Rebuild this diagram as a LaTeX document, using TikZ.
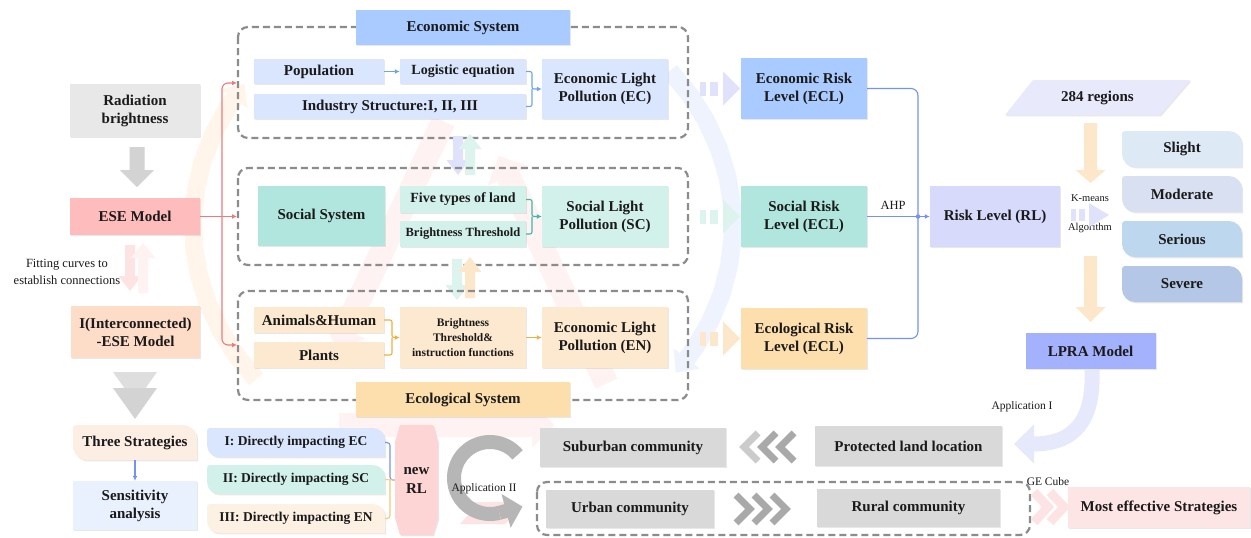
\documentclass[tikz,border=0pt]{standalone}
\usepackage{fontspec}
\setmainfont{Liberation Serif}
\usetikzlibrary{arrows.meta,shadows,calc}

\definecolor{cRad}{HTML}{E8E8E8}
\definecolor{cESE}{HTML}{FFBCBC}
\definecolor{cIESE}{HTML}{FDDCC8}
\definecolor{cThree}{HTML}{FDEEE4}
\definecolor{cSens}{HTML}{E9F0FE}
\definecolor{cEcoT}{HTML}{A9CBFF}
\definecolor{cEcoIn}{HTML}{DAE6FD}
\definecolor{cSocS}{HTML}{B0E6DE}
\definecolor{cSocIn}{HTML}{D2F1EA}
\definecolor{cEclT}{HTML}{FDDFAE}
\definecolor{cEclIn}{HTML}{FDE9CF}
\definecolor{cRL}{HTML}{D7DAFB}
\definecolor{cReg}{HTML}{E8EAFB}
\definecolor{cSl}{HTML}{DDE9F5}
\definecolor{cMo}{HTML}{D9E0F2}
\definecolor{cSe}{HTML}{BDD7EE}
\definecolor{cSv}{HTML}{B4C7E7}
\definecolor{cLP}{HTML}{A4B1FC}
\definecolor{cNRL}{HTML}{FDD5D5}
\definecolor{cMost}{HTML}{FDE5E5}
\definecolor{cGray}{HTML}{D9D9D9}
\definecolor{cIII}{HTML}{FDF1E4}
\definecolor{txt}{HTML}{1A1A1A}
\definecolor{dashgray}{HTML}{8C8C8C}
\definecolor{cRed}{HTML}{F07A7A}
\definecolor{cBlueArr}{HTML}{6FA4E8}
\definecolor{cTealArr}{HTML}{3DB9A8}
\definecolor{cOrArr}{HTML}{EDB13F}
\definecolor{cBL}{HTML}{7592F2}
\definecolor{bgOr}{HTML}{FFF5EA}
\definecolor{bgBl}{HTML}{EFF3FE}
\definecolor{bgRd}{HTML}{FEF2F2}
\definecolor{fLav}{HTML}{E0E2FB}
\definecolor{fTeal}{HTML}{DDF4EE}
\definecolor{fOr}{HTML}{FDE7CB}
\definecolor{fPink}{HTML}{FDE3E3}
\definecolor{cChev}{HTML}{A9A9A9}
\definecolor{cArrG}{HTML}{D3D3D3}

\tikzset{
  bx/.style={rectangle, inner sep=1pt, align=center, text=txt,
    font=\bfseries\fontsize{15}{18}\selectfont,
    drop shadow={shadow xshift=1.2pt, shadow yshift=-1.4pt, opacity=.18}},
  bfa/.style={font=\bfseries\fontsize{15}{18}\selectfont},
  bfb/.style={font=\bfseries\fontsize{13.5}{16}\selectfont},
  lbl/.style={text=txt, align=center, inner sep=0pt},
  rg/.style={lbl, font=\fontsize{12.5}{17}\selectfont},
  dbox/.style={draw=dashgray, line width=2.2pt, dash pattern=on 7pt off 4pt, rounded corners=10pt},
  conn/.style={line width=1.1pt, rounded corners=2pt},
  tip/.style={-{Latex[length=5pt,width=5pt]}},
  chev/.style={line width=7pt, miter limit=10},
}

% leaf-shaped box: name, x0, y0, x1, y1, R, fill, font style, text
\newcommand\leafbox[9]{%
  \fill[#7, drop shadow={shadow xshift=1.2pt, shadow yshift=-1.4pt, opacity=.18}]
    ({#2+3},#3) -- ({#4-#6},#3) .. controls ({#4-0.45*#6},#3) and (#4,{#3+0.45*#6}) .. (#4,{#3+#6})
    -- (#4,#5) -- ({#2+#6},#5) .. controls ({#2+0.45*#6},#5) and (#2,{#5-0.45*#6}) .. (#2,{#5-#6})
    -- (#2,{#3+3}) .. controls (#2,{#3+1.3}) and ({#2+1.3},#3) .. ({#2+3},#3) -- cycle;
  \node[lbl,#8, minimum width={#4-#2}, minimum height={#5-#3}] (#1) at ({(#2+#4)/2},{(#3+#5)/2}) {#9};
}
% fat block arrow: x, y start, y head base, shaft w, head w, tip y, colour
\newcommand\fatarr[7]{%
  \fill[#7] ({#1-#4/2},#2) -- ({#1+#4/2},#2) -- ({#1+#4/2},#3) -- ({#1+#5/2},#3) -- (#1,#6)
    -- ({#1-#5/2},#3) -- ({#1-#4/2},#3) -- cycle;}
% segmented right arrow: x, y, colour
\newcommand\segarr[3]{%
  \fill[#3] (#1,{#2-7}) rectangle ({#1+6},{#2+7});
  \fill[#3] ({#1+10},{#2-7}) rectangle ({#1+18},{#2+7});
  \fill[#3] ({#1+23},{#2-17}) -- ({#1+40},#2) -- ({#1+23},{#2+17}) -- cycle;}

\begin{document}
\begin{tikzpicture}[x=1pt,y=-1pt]
\fill[white] (0,0) rectangle (1251,538);
\useasboundingbox (0,0) rectangle (1251,538);

% ---------- faint background decoration ----------
\draw[line width=18pt, line join=round, bgOr, -{Triangle[length=18pt,width=32pt]}, variable=\t, domain=140:216, samples=12]
  plot ({463+270*cos(\t)},{225+240*sin(\t)});
\draw[line width=18pt, line join=round, bgBl, -{Triangle[length=18pt,width=32pt]}, variable=\t, domain=-40:38, samples=12]
  plot ({463+270*cos(\t)},{225+240*sin(\t)});
\coordinate (tA) at (463,80);
\coordinate (tB) at (300,425);
\coordinate (tC) at (626,425);
\draw[line width=24pt, bgRd, -{Triangle[length=22pt,width=44pt]}] ($(tA)!0.12!(tB)$) -- ($(tA)!0.78!(tB)$);
\draw[line width=24pt, bgRd, -{Triangle[length=22pt,width=44pt]}] ($(tB)!0.12!(tC)$) -- ($(tB)!0.78!(tC)$);
\draw[line width=24pt, bgRd, -{Triangle[length=22pt,width=44pt]}] ($(tC)!0.12!(tA)$) -- ($(tC)!0.78!(tA)$);

% ---------- left column ----------
\node[bx, fill=cRad, minimum width=130pt, minimum height=53pt] (rad) at (135,110.5) {Radiation\\brightness};
\fatarr{137}{147}{170}{15}{34}{187}{cArrG}
\node[bx, fill=cESE, minimum width=130pt, minimum height=37pt] (ese) at (135,216.5) {ESE Model};
\fatarr{130}{245}{276}{10}{23}{291}{fPink}
\fatarr{143}{293}{258}{10}{25}{243}{bgRd}
\node[rg] (fit) at (67,272) {Fitting curves to\\establish connections};
\node[bx, fill=cIESE, minimum width=129pt, minimum height=52pt] (iese) at (135.5,332) {I(Interconnected)\\-ESE Model};
\fill[cArrG!75] (113,372) -- (157,372) -- (135,403) -- cycle;
\fill[cArrG] (113,388) -- (157,388) -- (135,419) -- cycle;
\leafbox{three}{73}{425}{197}{460}{14}{cThree}{bfa}{Three Strategies}
\node[bx, fill=cSens, minimum width=124pt, minimum height=49pt] (sens) at (135,505.5) {Sensitivity\\analysis};
\draw[conn, draw=cBL, tip] (three.south) -- (sens.north);

% red bracket
\coordinate (bT) at (237,83);
\coordinate (bM) at (237,216.5);
\coordinate (bB) at (237,345);
\draw[conn, draw=cRed, tip] (ese.east) -- (bM);
\draw[conn, draw=cRed, rounded corners=6pt, {Latex[length=5pt,width=5pt]}-{Latex[length=5pt,width=5pt]}]
  (bT) -- (222,83) -- (222,345) -- (bB);

% ---------- economic system ----------
\draw[dbox] (238,27) rectangle (688,138);
\node[bx, fill=cEcoT, minimum width=214pt, minimum height=35pt] (ecoT) at (463,27.5) {Economic System};
\node[bx, fill=cEcoIn, minimum width=130pt, minimum height=25pt] (pop) at (319,71.5) {Population};
\node[bx, fill=cEcoIn, minimum width=126pt, minimum height=25pt, font=\bfseries\fontsize{14}{16}\selectfont] (logi) at (463,71.5) {Logistic equation};
\node[bx, fill=cEcoIn, minimum width=272pt, minimum height=25pt] (ind) at (390,106.5) {Industry Structure:I, II, III};
\node[bx, fill=cEcoIn, minimum width=126pt, minimum height=60pt] (ec) at (605,89) {Economic Light\\Pollution (EC)};
\draw[conn, draw=cBlueArr, tip] (pop.east) -- (logi.west);
\draw[conn, draw=cBlueArr, tip] (logi.east) -- (532,71.5) -- (532,89) -- (ec.west);
\draw[conn, draw=cBlueArr] (ind.east) -- (532,106.5) -- (532,89);

% arrows between systems
\fatarr{458}{136}{160}{10}{23}{175}{fLav}
\fatarr{470}{175}{149}{10}{23}{134}{fTeal}

% ---------- social system ----------
\draw[dbox] (238,168) rectangle (688,265);
\node[bx, fill=cSocS, minimum width=127pt, minimum height=60pt] (socs) at (321.5,216) {Social System};
\node[bx, fill=cSocIn, minimum width=126pt, minimum height=27pt, font=\bfseries\fontsize{14}{16}\selectfont] (five) at (463,199.5) {Five types of land};
\node[bx, fill=cSocIn, minimum width=126pt, minimum height=26pt, font=\bfseries\fontsize{12.5}{15}\selectfont] (bth) at (463,234) {Brightness Threshold};
\node[bx, fill=cSocIn, minimum width=126pt, minimum height=61pt] (sc) at (605,216.5) {Social Light\\Pollution (SC)};
\draw[conn, draw=cTealArr, tip] (five.east) -- (532,199.5) -- (532,216.5) -- (sc.west);
\draw[conn, draw=cTealArr] (bth.east) -- (532,234) -- (532,216.5);

\fatarr{457}{259}{285}{10}{23}{300}{fTeal}
\fatarr{470}{298}{272}{10}{23}{257}{fOr}

% ---------- ecological system ----------
\draw[dbox] (238,291) rectangle (688,400);
\node[bx, fill=cEclIn, minimum width=130pt, minimum height=26pt] (ani) at (319,320) {Animals\&Human};
\node[bx, fill=cEclIn, minimum width=130pt, minimum height=26pt] (pla) at (319,355) {Plants};
\node[bx, fill=cEclIn, minimum width=126pt, minimum height=61pt, font=\bfseries\fontsize{11.5}{15}\selectfont] (bti) at (463,337.5) {Brightness\\Threshold\&\\instruction functions};
\node[bx, fill=cEclIn, minimum width=126pt, minimum height=61pt] (en) at (605,337.5) {Economic Light\\Pollution (EN)};
\draw[conn, draw=cOrArr, tip] (ani.east) -- (392,320) -- (392,337.5) -- (bti.west);
\draw[conn, draw=cOrArr] (pla.east) -- (392,355) -- (392,337.5);
\draw[conn, draw=cOrArr, tip] (bti.east) -- (en.west);
\node[bx, fill=cEclT, minimum width=214pt, minimum height=35pt] (eclT) at (463,399.5) {Ecological System};

% ---------- risk levels ----------
\segarr{700}{88.5}{fLav}
\segarr{700}{216.5}{fTeal}
\segarr{700}{338.5}{fOr}
\node[bx, fill=cEcoT, minimum width=126pt, minimum height=61pt] (ecl1) at (804,88.5) {Economic Risk\\Level (ECL)};
\node[bx, fill=cSocS, minimum width=126pt, minimum height=61pt] (ecl2) at (804,216.5) {Social Risk\\Level (ECL)};
\node[bx, fill=cEclT, minimum width=126pt, minimum height=61pt] (ecl3) at (804,338.5) {Ecological Risk\\Level (ECL)};
\node[bx, fill=cRL, minimum width=130pt, minimum height=61pt] (rl) at (995,216.5) {Risk Level (RL)};
\draw[conn, draw=cBL, rounded corners=7pt] (ecl1.east) -- (918,88.5) -- (918,216.5);
\draw[conn, draw=cBL, rounded corners=7pt] (ecl3.east) -- (918,338.5) -- (918,216.5);
\draw[conn, draw=cBL, tip] (ecl2.east) -- (rl.west);
\fill[cBL] (918,216.5) circle (2.2);
\node[rg] (ahp) at (893,205) {AHP};

% ---------- right column ----------
\fill[cReg, drop shadow={shadow xshift=1.2pt, shadow yshift=-1.4pt, opacity=.18}]
  (1033,80) -- (1190,80) -- (1160,115) -- (1005,115) -- cycle;
\node[lbl, bfa] (reg) at (1097.5,97.5) {284 regions};
\fatarr{1090.5}{123}{170}{13}{30}{183}{fOr}
\node[lbl, font=\fontsize{10.5}{12}\selectfont] (km) at (1090,198) {K-means};
\node[lbl, font=\fontsize{10.5}{12}\selectfont] (alg) at (1090,228) {Algorithm};
\fill[fLav] (1071,209) rectangle (1076,221);
\fill[fLav] (1079,209) rectangle (1085,221);
\fill[fLav] (1089,203) -- (1109,215) -- (1089,227) -- cycle;
\leafbox{sl}{1122}{131}{1242}{167}{13}{cSl}{bfa}{Slight}
\leafbox{mo}{1122}{176}{1242}{212}{13}{cMo}{bfa}{Moderate}
\leafbox{se}{1122}{221}{1242}{257}{13}{cSe}{bfa}{Serious}
\leafbox{sv}{1122}{266}{1242}{302}{13}{cSv}{bfa}{Severe}
\fatarr{1090.5}{256}{307}{13}{30}{322}{fOr}
\node[bx, fill=cLP, minimum width=130pt, minimum height=36pt] (lpra) at (1090.5,351) {LPRA Model};

% Application I arrow
\coordinate (a1s) at (1092,370);
\coordinate (a1e) at (1014,444);
\draw[line width=15pt, color=fLav!80, -{Triangle[length=20pt,width=38pt]}]
  (a1s) .. controls (1094,420) and (1075,444) .. (a1e);
\node[lbl, font=\fontsize{11.5}{13}\selectfont] (app1) at (1022,407) {Application I};

% ---------- bottom row ----------
\leafbox{s1}{207}{428}{385}{457}{12}{cEcoIn}{bfb}{I: Directly impacting EC}
\leafbox{s2}{207}{465}{385}{494}{12}{cSocIn}{bfb}{II: Directly impacting SC}
\leafbox{s3}{207}{504}{385}{533}{12}{cIII}{bfb}{III: Directly impacting EN}
\fill[cNRL, drop shadow={shadow xshift=1.2pt, shadow yshift=-1.4pt, opacity=.18}]
  (400,425) -- (433,425) -- (438,442) -- (438,518) -- (433,535) -- (400,535) -- (395,518) -- (395,442) -- cycle;
\node[lbl, font=\bfseries\fontsize{15}{19}\selectfont, minimum width=43pt, minimum height=110pt] (nrl) at (416.5,480) {new\\RL};
\draw[conn, draw=cBL, rounded corners=3pt] (s1.east) -- (390,442.5) -- (390,480) -- (nrl.west);
\draw[conn, draw=cOrArr!70, rounded corners=3pt] (s3.east) -- (390,518.5) -- (390,480);
\draw[conn, draw=cOrArr!60] (s2.east) -- (nrl.west);

% Application II circular arrow
\fill[fPink] (460,502) -- (505,502) -- (516,513) -- (505,524) -- (460,524) -- (470,513) -- cycle;
\draw[line width=14pt, color=cChev!85, variable=\t, domain=0:245, samples=60]
  plot ({490+36*cos(-40-\t)},{478+36*sin(-40-\t)});
\coordinate (a2e) at ({490+36*cos(-285)},{478+36*sin(-285)});
\coordinate (a2t) at ({490+36*cos(-285)+24*0.966},{478+36*sin(-285)-24*0.259});
\draw[line width=14pt, color=cChev!85, -{Triangle[length=17pt,width=34pt]}] (a2e) -- (a2t);
\node[lbl, font=\fontsize{11.5}{13}\selectfont] (app2) at (484,489) {Application II};

\node[bx, fill=cGray, minimum width=186pt, minimum height=39pt] (sub) at (633,447.5) {Suburban community};
\node[bx, fill=cGray, minimum width=187pt, minimum height=40pt] (prot) at (908.5,446) {Protected land location};
\draw[chev, cChev!60] (758,433) -- (744,447) -- (758,461);
\draw[chev, cChev] (776,433) -- (762,447) -- (776,461);
\draw[chev, cChev] (794,433) -- (780,447) -- (794,461);

\draw[dbox] (537,482) rectangle (1030,535);
\node[bx, fill=cGray, minimum width=168pt, minimum height=38pt] (urb) at (630,509) {Urban community};
\node[bx, fill=cGray, minimum width=183pt, minimum height=38pt] (rur) at (908.5,508) {Rural community};
\draw[chev, cChev] (736,495) -- (750,509) -- (736,523);
\draw[chev, cChev] (754,495) -- (768,509) -- (754,523);
\draw[chev, cChev] (772,495) -- (786,509) -- (772,523);

\node[lbl, font=\fontsize{11.5}{13}\selectfont] (ge) at (1048,482) {GE Cube};
\draw[line width=9pt, fPink] (1034,492) -- (1048,507) -- (1034,522);
\draw[line width=9pt, fPink] (1050,492) -- (1064,507) -- (1050,522);
\node[bx, fill=cMost, minimum width=182pt, minimum height=41pt] (most) at (1159,507.5) {Most effective Strategies};

\end{tikzpicture}
\end{document}
